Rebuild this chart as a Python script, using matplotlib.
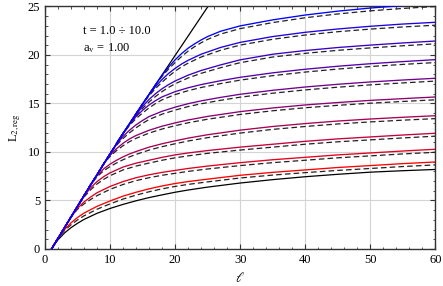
import matplotlib
matplotlib.use("Agg")
import matplotlib.pyplot as plt
from matplotlib.ticker import MultipleLocator

# shared rising branch that every curve follows before it bends away
env_ell = [1, 1.5, 2, 3, 4, 5, 6, 7, 8, 9, 10, 11, 12, 13, 14, 15, 16, 17]
env_L = [0, 0.55, 1.1, 2.2, 3.3, 4.4, 5.5, 6.6, 7.65, 8.75, 9.8, 10.85, 11.9, 12.9, 13.95, 14.95, 15.95, 16.95]

# asymptotic straight line
line_ell = [11, 26]
line_L = [10.95, 25.95]

# lowest black curve
black_ell = [1, 1.5, 2, 3, 4, 5, 6, 8, 10, 12, 14, 16, 18, 20, 22, 25, 30, 35, 40, 45, 50, 55, 60]
black_L = [0, 0.5, 0.95, 1.65, 2.2, 2.65, 3.05, 3.68, 4.18, 4.6, 4.97, 5.3, 5.58, 5.85, 6.08, 6.38, 6.8, 7.15, 7.45, 7.7, 7.92, 8.07, 8.2]

# t = 1 ... 10 : branch after the knee (solid and dashed share the same ell)
tail_ell = [
    [2, 3, 4, 5, 6, 8, 10, 12, 14, 16, 18, 20, 22, 25, 30, 35, 40, 45, 50, 55, 60],
    [4, 5, 6, 7, 8, 10, 12, 14, 16, 18, 20, 22, 25, 30, 35, 40, 45, 50, 55, 60],
    [5, 6, 7, 8, 9, 10, 12, 14, 16, 18, 20, 22, 25, 30, 35, 40, 45, 50, 55, 60],
    [7, 8, 9, 10, 11, 12, 13, 14, 16, 18, 20, 22, 25, 30, 35, 40, 45, 50, 55, 60],
    [9, 10, 11, 12, 13, 14, 16, 18, 20, 22, 25, 30, 35, 40, 45, 50, 55, 60],
    [10, 11, 12, 13, 14, 15, 16, 18, 20, 22, 24, 27, 30, 35, 40, 45, 50, 55, 60],
    [12, 13, 14, 15, 16, 17, 18, 20, 22, 24, 27, 30, 35, 40, 45, 50, 55, 60],
    [13, 14, 15, 16, 17, 18, 19, 20, 22, 24, 27, 30, 35, 40, 45, 50, 55, 60],
    [15, 16, 17, 18, 19, 20, 21, 22, 24, 27, 30, 35, 40, 45, 50, 55, 60],
    [17, 18, 19, 20, 21, 22, 23, 24, 25, 27, 30, 35, 40, 45, 50, 55, 60],
]
solid_L = [
    [1.1, 2.0, 2.7, 3.25, 3.7, 4.4, 4.95, 5.45, 5.85, 6.2, 6.5, 6.75, 6.95, 7.2, 7.6, 7.9, 8.15, 8.4, 8.6, 8.8, 8.97],
    [3.3, 4.2, 4.85, 5.35, 5.8, 6.45, 6.95, 7.35, 7.65, 7.9, 8.1, 8.3, 8.55, 8.9, 9.2, 9.45, 9.7, 9.9, 10.1, 10.28],
    [4.4, 5.45, 6.3, 6.95, 7.45, 7.85, 8.45, 8.85, 9.15, 9.45, 9.7, 9.9, 10.15, 10.5, 10.8, 11.1, 11.35, 11.55, 11.75, 11.93],
    [6.6, 7.55, 8.25, 8.75, 9.15, 9.5, 9.8, 10.05, 10.5, 10.85, 11.15, 11.43, 11.78, 12.25, 12.63, 12.93, 13.19, 13.4, 13.58, 13.74],
    [8.75, 9.65, 10.35, 10.9, 11.35, 11.7, 12.24, 12.66, 13.0, 13.3, 13.67, 14.16, 14.54, 14.85, 15.1, 15.32, 15.5, 15.67],
    [9.8, 10.8, 11.6, 12.25, 12.8, 13.25, 13.65, 14.2, 14.62, 14.98, 15.27, 15.63, 15.95, 16.36, 16.7, 16.98, 17.22, 17.42, 17.6],
    [11.9, 12.85, 13.65, 14.3, 14.85, 15.3, 15.68, 16.22, 16.62, 16.95, 17.35, 17.7, 18.16, 18.53, 18.84, 19.1, 19.32, 19.52],
    [12.9, 13.85, 14.7, 15.42, 16.02, 16.52, 16.95, 17.32, 17.92, 18.4, 18.98, 19.5, 20.08, 20.46, 20.77, 21.02, 21.24, 21.44],
    [14.95, 15.9, 16.75, 17.48, 18.1, 18.62, 19.07, 19.45, 20.08, 20.78, 21.3, 21.9, 22.34, 22.68, 22.96, 23.19, 23.37],
    [16.95, 17.9, 18.75, 19.5, 20.15, 20.7, 21.15, 21.55, 21.9, 22.45, 23.0, 23.62, 24.12, 24.52, 24.84, 25.1, 25.3],
]
dashed_L = [
    [1.1, 1.9, 2.5, 3.0, 3.42, 4.1, 4.65, 5.15, 5.55, 5.9, 6.2, 6.45, 6.66, 6.92, 7.32, 7.62, 7.87, 8.1, 8.3, 8.5, 8.67],
    [3.3, 4.1, 4.65, 5.1, 5.5, 6.15, 6.65, 7.05, 7.35, 7.6, 7.8, 8.0, 8.25, 8.6, 8.9, 9.15, 9.4, 9.6, 9.8, 9.97],
    [4.4, 5.35, 6.1, 6.7, 7.17, 7.56, 8.15, 8.55, 8.86, 9.15, 9.4, 9.6, 9.86, 10.2, 10.5, 10.8, 11.05, 11.25, 11.45, 11.63],
    [6.6, 7.45, 8.05, 8.5, 8.87, 9.2, 9.5, 9.75, 10.2, 10.55, 10.85, 11.13, 11.48, 11.95, 12.33, 12.63, 12.89, 13.1, 13.28, 13.44],
    [8.75, 9.55, 10.15, 10.65, 11.07, 11.41, 11.95, 12.37, 12.71, 13.01, 13.38, 13.87, 14.25, 14.56, 14.81, 15.03, 15.21, 15.38],
    [9.8, 10.7, 11.4, 11.98, 12.5, 12.95, 13.35, 13.9, 14.32, 14.68, 14.97, 15.33, 15.65, 16.06, 16.4, 16.68, 16.92, 17.12, 17.31],
    [11.9, 12.75, 13.45, 14.02, 14.55, 15.0, 15.38, 15.92, 16.32, 16.65, 17.05, 17.41, 17.87, 18.24, 18.55, 18.81, 19.03, 19.22],
    [12.9, 13.75, 14.5, 15.15, 15.73, 16.23, 16.66, 17.03, 17.63, 18.11, 18.69, 19.21, 19.79, 20.17, 20.48, 20.73, 20.95, 21.15],
    [14.95, 15.8, 16.55, 17.2, 17.8, 18.33, 18.78, 19.16, 19.79, 20.49, 21.02, 21.62, 22.06, 22.4, 22.67, 22.89, 23.07],
    [16.95, 17.8, 18.55, 19.22, 19.85, 20.4, 20.86, 21.26, 21.61, 22.16, 22.72, 23.34, 23.84, 24.23, 24.55, 24.8, 25.0],
]
t_values = [1, 2, 3, 4, 5, 6, 7, 8, 9, 10]

plt.rcParams["font.family"] = ["Liberation Serif", "DejaVu Serif"]
plt.rcParams["mathtext.fontset"] = "stix"

fig = plt.figure(figsize=(4.43, 2.86), dpi=100)
ax = fig.add_axes([0.1016, 0.1294, 0.8810, 0.8479])

ax.plot(line_ell, line_L, color="black", lw=0.9, zorder=2)
ax.plot(black_ell, black_L, color="black", lw=0.9, zorder=3)

for i, t in enumerate(t_values):
    f = (t - 1) / 9.0
    col = (1 - f, 0.0, f)
    head_ell = [e for e in env_ell if e < tail_ell[i][0]]
    head_L = env_L[:len(head_ell)]
    xs = head_ell + tail_ell[i]
    ax.plot(xs, head_L + solid_L[i], color=col, lw=0.95, zorder=4)
    ax.plot(xs, head_L + dashed_L[i], color="#222222", lw=0.9,
            dashes=(4.5, 2.5), zorder=3)

ax.set_xlim(0, 60)
ax.set_ylim(0, 25)
ax.xaxis.set_major_locator(MultipleLocator(10))
ax.xaxis.set_minor_locator(MultipleLocator(2))
ax.yaxis.set_major_locator(MultipleLocator(5))
ax.yaxis.set_minor_locator(MultipleLocator(1))
ax.tick_params(which="both", direction="in", top=True, right=True,
               labelsize=9, colors="#333333", labelcolor="black")
ax.tick_params(which="major", length=3.5, width=0.8)
ax.tick_params(which="minor", length=1.8, width=0.6)
ax.grid(True, which="major", color="#d4d4d4", lw=0.8, zorder=0)
for s in ax.spines.values():
    s.set_linewidth(1.0)
    s.set_color("#333333")

ax.set_xlabel(r"$\ell$", fontsize=10, labelpad=4)
ax.set_ylabel(r"L$_{\mathrm{2,reg}}$", fontsize=9, labelpad=3)

ax.text(5.85, 22.5, "t = 1.0 \u00f7 10.0", fontsize=9, va="center", ha="left")
ax.text(5.85, 20.7, r"a$_\mathrm{v}$ = 1.00", fontsize=9, va="center", ha="left")

fig.savefig("out.png", dpi=100)
